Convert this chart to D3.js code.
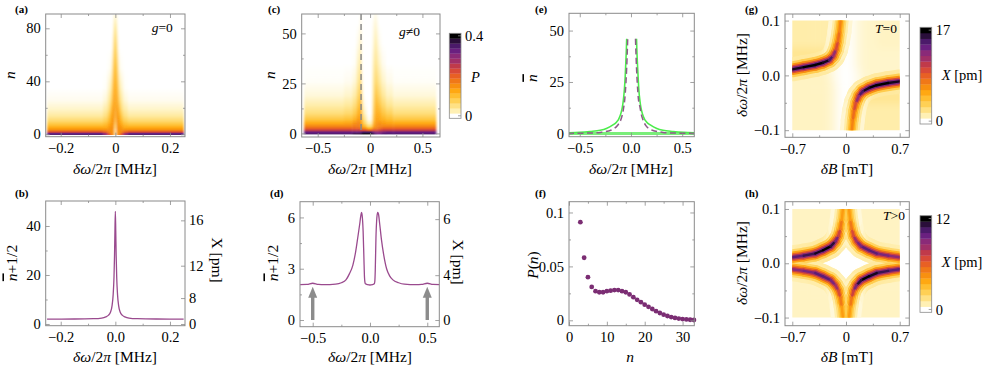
<!DOCTYPE html>
<html>
<head>
<meta charset="utf-8">
<script src="https://cdn.jsdelivr.net/npm/d3@7"></script>
<style>
body { margin: 0; background: #fff; }
</style>
</head>
<body>
<div id="chart"></div>
<script>
// ---------- values ----------

// colour bands of the bars, bottom (0) -> top
let palette = ["#ffffff", "#fff0b4", "#ffe184", "#ffd055", "#ffbe30", "#ffa812", "#f89010",
  "#f07818", "#e86024", "#d84a38", "#c03a4a", "#a03068", "#8a2a78", "#6a2080", "#4b1a6a", "#2a0e3a", "#000000"];

// (a) P(n) map, g=0 : column edges, n of the sampled levels, level per column (bottom -> top)
let aXEdges = [-0.25, -0.045, -0.03, -0.02, -0.013, -0.008, -0.004, -0.0015, 0.0015, 0.004, 0.008, 0.013, 0.02, 0.03, 0.045, 0.25];
let aStopN = [-0.5, 0.6, 1.5, 2.5, 3.5, 5, 7, 10, 14, 19, 26, 35, 50, 65, 80, 90];
let aCols = [
  [14, 13, 9.5, 7.5, 6, 5, 3.8, 2.5, 1.4, 0.7, 0.2, 0, 0, 0, 0, 0],
  [12, 11, 8.5, 7, 6, 5, 4.2, 3, 2, 1.2, 0.5, 0.1, 0, 0, 0, 0],
  [9, 8.5, 7, 6.5, 6, 5.5, 5, 4, 3, 2, 1.2, 0.6, 0.1, 0, 0, 0],
  [7, 6.5, 6, 6, 6, 6, 5.5, 5, 4.5, 3.5, 2.2, 1.2, 0.3, 0, 0, 0],
  [6, 6, 6, 6, 6, 6, 6, 6, 5.5, 5, 4, 3, 1.5, 0.4, 0, 0],
  [6, 6, 6, 6, 6, 6, 6, 6, 6, 6, 5.5, 5, 4, 2.5, 1, 0.3],
  [3, 3, 3, 3, 3, 3.5, 4, 5, 5.5, 5.5, 5.5, 5, 4, 3, 1.5, 0.5],
  [0.5, 0.5, 0.5, 0.5, 0.5, 1, 1.5, 2.5, 3.5, 4, 4, 4, 3.5, 2.5, 1.5, 0.5],
  [3, 3, 3, 3, 3, 3.5, 4, 5, 5.5, 5.5, 5.5, 5, 4, 3, 1.5, 0.5],
  [6, 6, 6, 6, 6, 6, 6, 6, 6, 6, 5.5, 5, 4, 2.5, 1, 0.3],
  [6, 6, 6, 6, 6, 6, 6, 6, 5.5, 5, 4, 3, 1.5, 0.4, 0, 0],
  [7, 6.5, 6, 6, 6, 6, 5.5, 5, 4.5, 3.5, 2.2, 1.2, 0.3, 0, 0, 0],
  [9, 8.5, 7, 6.5, 6, 5.5, 5, 4, 3, 2, 1.2, 0.6, 0.1, 0, 0, 0],
  [12, 11, 8.5, 7, 6, 5, 4.2, 3, 2, 1.2, 0.5, 0.1, 0, 0, 0, 0],
  [14, 13, 9.5, 7.5, 6, 5, 3.8, 2.5, 1.4, 0.7, 0.2, 0, 0, 0, 0, 0]
];

// (c) P(n) map, g!=0
let cXEdges = [-0.63, -0.25, -0.17, -0.13, -0.1, -0.08, -0.06, -0.03, 0.02, 0.04, 0.06, 0.08, 0.11, 0.15, 0.22, 0.63];
let cStopN = [-0.5, 0.6, 1.5, 2.5, 3.5, 5, 7, 10, 14, 19, 26, 35, 45, 55, 60];
let cCols = [
  [14, 13, 10, 8, 6.5, 5, 3.5, 2.2, 1.2, 0.5, 0.1, 0, 0, 0, 0],
  [14, 13, 10, 8, 6.5, 5.2, 3.8, 2.5, 1.5, 0.7, 0.2, 0, 0, 0, 0],
  [15, 13, 10, 8, 7, 6, 4.5, 3.2, 2.2, 1.2, 0.5, 0.1, 0, 0, 0],
  [15, 13, 10, 8, 7, 6.5, 5.5, 4.5, 3.5, 2.5, 1.5, 0.8, 0.3, 0, 0],
  [15, 13, 9.5, 7.5, 6.5, 6, 5.5, 5, 4.5, 3.5, 2.5, 1.5, 0.8, 0.3, 0.1],
  [16, 14, 9, 6.5, 5, 4, 3, 2, 1.2, 0.6, 0.2, 0, 0, 0, 0],
  [16, 14, 9, 6, 4, 2.5, 1.5, 0.7, 0.2, 0, 0, 0, 0, 0, 0],
  [16, 14, 8, 4.5, 2.5, 1, 0.3, 0, 0, 0, 0, 0, 0, 0, 0],
  [15, 13, 9, 6.5, 5, 4, 3, 2.5, 2, 1.5, 1.2, 0.8, 0.4, 0.2, 0],
  [14, 12, 9, 7, 6, 5.5, 5, 4.5, 4, 3.5, 2.5, 1.8, 1.2, 0.6, 0.3],
  [13, 12, 9, 7, 6.5, 6, 5.5, 5, 4.5, 3.5, 2.5, 1.5, 0.8, 0.3, 0.1],
  [13, 12, 9.5, 7.5, 6.5, 6, 5, 4.5, 3.5, 2.5, 1.5, 0.7, 0.2, 0, 0],
  [14, 12.5, 10, 8, 6.5, 5.5, 4.5, 3.5, 2.5, 1.5, 0.7, 0.2, 0, 0, 0],
  [14, 13, 10, 8, 6.5, 5.2, 4, 2.8, 1.7, 0.8, 0.3, 0, 0, 0, 0],
  [14, 13, 10, 8, 6.5, 5, 3.5, 2.2, 1.2, 0.5, 0.1, 0, 0, 0, 0]
];
let cDashX = -0.086;

// (e) mean occupation: green solid and purple dashed branches
let eGreenLX = [-0.615, -0.5, -0.4, -0.3, -0.24, -0.18, -0.14, -0.12, -0.1, -0.085, -0.075, -0.065, -0.057, -0.05, -0.045, -0.042];
let eGreenLY = [0.3, 0.5, 0.9, 1.5, 2.4, 4.0, 5.6, 7.0, 9.5, 12.5, 16, 21, 27, 35, 41, 46];
let eGreenRX = [0.054, 0.057, 0.062, 0.07, 0.077, 0.087, 0.097, 0.112, 0.132, 0.152, 0.192, 0.252, 0.312, 0.412, 0.512, 0.618];
let eGreenRY = [46, 41, 35, 27, 21, 16, 12.5, 9.5, 7, 5.6, 4, 2.4, 1.5, 0.9, 0.5, 0.3];
let ePurpleLX = [-0.615, -0.4, -0.3, -0.22, -0.17, -0.13, -0.1, -0.085, -0.07, -0.06, -0.05, -0.042, -0.036, -0.032];
let ePurpleLY = [0, 0.2, 0.5, 1.2, 2.2, 4, 6.5, 9, 13, 17, 24, 32, 40, 46];
let ePurpleRX = [0.044, 0.048, 0.054, 0.062, 0.072, 0.087, 0.102, 0.118, 0.142, 0.182, 0.232, 0.312, 0.412, 0.618];
let ePurpleRY = [46, 40, 32, 24, 17, 13, 9, 6.5, 4, 2.2, 1.2, 0.5, 0.2, 0];
let eFlatX = [-0.615, 0.618];
let eFlatY = [0, 0];

// (b) n+1/2 vs detuning, g=0
let bX = [-0.25, -0.15, -0.08, -0.05, -0.035, -0.025, -0.018, -0.012, -0.008, -0.005, -0.003, -0.0015, 0,
  0.0015, 0.003, 0.005, 0.008, 0.012, 0.018, 0.025, 0.035, 0.05, 0.08, 0.15, 0.25];
let bY = [2.0, 2.03, 2.15, 2.4, 2.9, 3.6, 4.8, 7.5, 12, 19, 28, 38, 46,
  38, 28, 19, 12, 7.5, 4.8, 3.6, 2.9, 2.4, 2.15, 2.03, 2.0];
let bPmPerSqrt = 2.46;   // right axis: X = k * sqrt(n+1/2)

// (d) n+1/2 vs detuning, g!=0
let dX = [-0.61, -0.55, -0.5, -0.45, -0.4, -0.3, -0.25, -0.21, -0.18, -0.15, -0.125, -0.105, -0.09, -0.08, -0.074,
  -0.068, -0.06, -0.053, -0.048, -0.044, -0.04, -0.02, 0, 0.02, 0.038, 0.042, 0.046, 0.052, 0.06, 0.067,
  0.074, 0.085, 0.1, 0.12, 0.145, 0.17, 0.2, 0.25, 0.3, 0.4, 0.45, 0.5, 0.55, 0.61];
let dY = [2.07, 2.08, 2.15, 2.08, 2.07, 2.1, 2.18, 2.35, 2.7, 3.2, 4.0, 4.9, 5.6, 6.1, 6.3,
  6.1, 5.2, 3.6, 2.5, 2.2, 2.12, 2.07, 2.05, 2.07, 2.12, 2.25, 2.9, 4.8, 6.0, 6.3,
  6.2, 5.6, 4.7, 3.8, 3.0, 2.6, 2.35, 2.18, 2.1, 2.07, 2.08, 2.15, 2.08, 2.07];
let dPmPerSqrt = 2.47;
let dArrowX = [-0.5, 0.5];
let dArrowTop = 1.95;

// (f) photon number distribution
let fN = [3, 4, 5, 6, 7, 8, 9, 10, 11, 12, 13, 14, 15, 16, 17, 18, 19, 20, 21, 22, 23, 24, 25, 26, 27, 28, 29, 30, 31, 32, 33];
let fP = [0.091, 0.058, 0.040, 0.031, 0.027, 0.026, 0.026, 0.027, 0.0275, 0.028, 0.028, 0.027, 0.026, 0.024, 0.0215,
  0.019, 0.0168, 0.0145, 0.0125, 0.0105, 0.0085, 0.0068, 0.0052, 0.004, 0.003, 0.0022, 0.0016, 0.0011, 0.0008, 0.0005, 0.0003];

// (g),(h) pale background level, rows bottom -> top
let ghXEdges = [-0.7, -0.4, -0.2, -0.1, 0, 0.1, 0.2, 0.4, 0.7];
let ghYEdges = [-0.1, -0.05, -0.025, -0.012, 0.012, 0.025, 0.05, 0.1];
let gRows = [
  [0.8, 0.8, 0.5, 0, 0, 1.2, 1.2, 1.2],
  [0.8, 0.8, 0.5, 0, 0, 0.8, 1.8, 1.8],
  [0.8, 0.8, 0.5, 0, 0, 0.3, 0.6, 0.8],
  [0.8, 0.8, 0.3, 0, 0, 0.3, 0.7, 0.7],
  [0.8, 0.6, 0.3, 0, 0, 0.5, 0.7, 0.7],
  [1.8, 1.8, 0.8, 0, 0, 0.5, 0.7, 0.7],
  [1.2, 1.2, 1.2, 0.3, 0, 0.5, 0.7, 0.8]
];
let hRows = [
  [0.8, 0.8, 0.8, 0.3, 0.3, 0.8, 0.8, 0.8],
  [0.8, 0.8, 0.3, 0, 0, 0.3, 0.8, 0.8],
  [0.8, 0.3, 0, 0, 0, 0, 0.3, 0.8],
  [0.3, 0, 0, 0, 0, 0, 0, 0.3],
  [0.8, 0.3, 0, 0, 0, 0, 0.3, 0.8],
  [0.8, 0.8, 0.3, 0, 0, 0.3, 0.8, 0.8],
  [0.8, 0.8, 0.8, 0.3, 0.3, 0.8, 0.8, 0.8]
];

// (g) T=0 resonance ridges (dB, dw, level)
let gLeftX = [-0.7, -0.55, -0.4, -0.3, -0.22, -0.17, -0.13, -0.105, -0.085, -0.07];
let gLeftY = [0.011, 0.015, 0.019, 0.023, 0.028, 0.035, 0.047, 0.062, 0.08, 0.1];
let gLeftLv = [15, 16, 16, 16, 15, 13, 10, 8, 7, 6];
let gRightX = [0.7, 0.55, 0.4, 0.3, 0.22, 0.17, 0.13, 0.105, 0.088, 0.076];
let gRightY = [-0.011, -0.014, -0.018, -0.023, -0.029, -0.037, -0.05, -0.065, -0.082, -0.1];
let gRightLv = [15, 16, 16, 16, 15, 13, 10, 8, 7, 6];

// (h) T>0 ridges
let hUpLeftX = [-0.7, -0.55, -0.4, -0.3, -0.2, -0.14, -0.1, -0.075, -0.055, -0.04];
let hUpLeftY = [0.011, 0.014, 0.018, 0.024, 0.031, 0.04, 0.05, 0.063, 0.08, 0.1];
let hUpLeftLv = [13, 14, 15, 16, 16, 14, 11, 8, 6, 5];
let hUpRightX = [0.7, 0.55, 0.4, 0.3, 0.2, 0.14, 0.1, 0.075, 0.055, 0.04];
let hUpRightY = [0.011, 0.014, 0.018, 0.024, 0.031, 0.04, 0.05, 0.063, 0.08, 0.1];
let hUpRightLv = [12, 12, 13, 14, 13, 12, 10, 8, 6, 5];
let hLowLeftX = [-0.7, -0.55, -0.4, -0.3, -0.2, -0.14, -0.1, -0.075, -0.055, -0.04];
let hLowLeftY = [-0.011, -0.014, -0.018, -0.024, -0.031, -0.04, -0.05, -0.063, -0.08, -0.1];
let hLowLeftLv = [12, 12, 13, 14, 13, 12, 10, 8, 6, 5];
let hLowRightX = [0.7, 0.55, 0.4, 0.3, 0.2, 0.14, 0.1, 0.075, 0.055, 0.04];
let hLowRightY = [-0.011, -0.014, -0.018, -0.024, -0.031, -0.04, -0.05, -0.063, -0.08, -0.1];
let hLowRightLv = [13, 14, 15, 16, 16, 14, 11, 8, 6, 5];

// ---------- drawing ----------
const FONT = '"Liberation Serif", "Times New Roman", serif';
const TICK = 14.5, TITLE = 15.5;
const frameCol = "#8a8a8a";
const svg = d3.select("#chart").append("svg").attr("width", 983).attr("height", 370)
  .style("font-family", FONT);
const defs = svg.append("defs");

// fractional level -> colour, blending neighbouring bands
function lvColor(lv) {
  lv = Math.max(0, Math.min(16, lv));
  const f = Math.floor(lv);
  if (f >= 16) return palette[16];
  return d3.interpolateRgb(palette[f], palette[f + 1])(lv - f);
}

function panel(l, r, t, b, xd, yd) {
  return { l, r, t, b,
    x: d3.scaleLinear().domain(xd).range([l, r]),
    y: d3.scaleLinear().domain(yd).range([b, t]) };
}
const A = panel(45.7, 185, 14, 136.7, [-0.255, 0.255], [-1.8, 90.8]);
const C = panel(301.7, 440, 14, 137, [-0.653, 0.668], [-1.8, 59.7]);
const E = panel(569, 694.3, 13.3, 136.7, [-0.605, 0.618], [-1.6, 58.4]);
const G = panel(785, 909.3, 14, 137.3, [-0.795, 0.825], [-0.113, 0.112]);
const B = panel(45.7, 185, 201, 325.7, [-0.255, 0.255], [-0.7, 50.2]);
const D = panel(300, 439.3, 201.7, 326.7, [-0.611, 0.605], [-0.39, 6.92]);
const F = panel(569, 694.3, 201.7, 325.7, [0, 33.1], [-0.005, 0.11]);
const H = panel(785, 909.3, 201.7, 325.7, [-0.795, 0.825], [-0.115, 0.1134]);

function clip(id, x0, y0, x1, y1) {
  defs.append("clipPath").attr("id", id).append("rect")
    .attr("x", Math.min(x0, x1)).attr("y", Math.min(y0, y1))
    .attr("width", Math.abs(x1 - x0)).attr("height", Math.abs(y1 - y0));
  return "url(#" + id + ")";
}
function frameClip(id, P) { return clip(id, P.l, P.t, P.r, P.b); }

function blurFilter(id, sx, sy) {
  defs.append("filter").attr("id", id)
    .attr("x", "-20%").attr("y", "-20%").attr("width", "140%").attr("height", "140%")
    .append("feGaussianBlur").attr("stdDeviation", sx + " " + sy);
  return "url(#" + id + ")";
}

// column heat map: every column is a vertical gradient through its sampled levels
function columnHeat(P, key, xE, stopN, cols, clipUrl) {
  const y1 = P.y(stopN[0]), y2 = P.y(stopN[stopN.length - 1]);
  cols.forEach((col, i) => {
    const gr = defs.append("linearGradient").attr("id", key + i)
      .attr("gradientUnits", "userSpaceOnUse")
      .attr("x1", 0).attr("x2", 0).attr("y1", y1).attr("y2", y2);
    stopN.forEach((n, j) => {
      gr.append("stop").attr("offset", (P.y(n) - y1) / (y2 - y1)).attr("stop-color", lvColor(col[j]));
    });
  });
  const outer = svg.append("g").attr("clip-path", clipUrl);
  outer.append("g").attr("filter", blurFilter(key + "blur", 0.8, 0.01))
    .selectAll("rect").data(cols).join("rect")
    .attr("x", (d, i) => P.x(xE[i]))
    .attr("width", (d, i) => P.x(xE[i + 1]) - P.x(xE[i]) + 0.3)
    .attr("y", y2).attr("height", y1 - y2)
    .attr("fill", (d, i) => `url(#${key}${i})`);
}

// pale background of (g),(h): coarse cells smoothed by a blur
function softHeat(P, key, xE, yE, rows, clipUrl) {
  let cells = [];
  for (let j = 0; j < yE.length - 1; j++)
    for (let i = 0; i < xE.length - 1; i++) {
      const pad = 14;
      let x0 = P.x(xE[i]), x1 = P.x(xE[i + 1]), yt = P.y(yE[j + 1]), yb = P.y(yE[j]);
      if (i === 0) x0 -= pad;
      if (i === xE.length - 2) x1 += pad;
      if (j === 0) yb += pad;
      if (j === yE.length - 2) yt -= pad;
      cells.push({ x0, x1, yt, yb, lv: rows[j][i] });
    }
  svg.append("g").attr("clip-path", clipUrl)
    .append("g").attr("filter", blurFilter(key, 5, 5))
    .selectAll("rect").data(cells).join("rect")
    .attr("x", d => d.x0).attr("y", d => d.yt)
    .attr("width", d => d.x1 - d.x0 + 0.3).attr("height", d => d.yb - d.yt + 0.3)
    .attr("fill", d => lvColor(d.lv));
}

// resonance ridges drawn as layered strokes (wide pale halo -> thin dark core)
function ridges(P, branches, clipUrl) {
  const layers = [{ w: 24, f: 0.09 }, { w: 16, f: 0.2 }, { w: 11.5, f: 0.38 }, { w: 8, f: 0.58 },
    { w: 5, f: 0.8 }, { w: 2.4, f: 1 }];
  const g = svg.append("g").attr("clip-path", clipUrl);
  let segs = [];
  branches.forEach(b => {
    for (let i = 0; i < b.x.length - 1; i++)
      segs.push({ x1: b.x[i], y1: b.y[i], x2: b.x[i + 1], y2: b.y[i + 1], lv: (b.lv[i] + b.lv[i + 1]) / 2 });
  });
  layers.forEach(L => {
    g.append("g").selectAll("line").data(segs).join("line")
      .attr("x1", d => P.x(d.x1)).attr("y1", d => P.y(d.y1))
      .attr("x2", d => P.x(d.x2)).attr("y2", d => P.y(d.y2))
      .attr("stroke", d => lvColor(d.lv * L.f))
      .attr("stroke-width", L.w)
      .attr("stroke-linecap", "round");
  });
}

function axes(P, o) {
  const g = svg.append("g");
  const fmt = o.xFmt || d3.format("");
  const yfmt = o.yFmt || d3.format("");
  g.append("g").attr("transform", `translate(0,${P.b})`)
    .call(d3.axisBottom(P.x).tickValues(o.xMaj).tickSizeInner(-4).tickSizeOuter(0).tickPadding(6).tickFormat(fmt));
  g.append("g").attr("transform", `translate(0,${P.b})`)
    .call(d3.axisBottom(P.x).tickValues(o.xMin).tickSizeInner(-2).tickSizeOuter(0).tickFormat(""));
  g.append("g").attr("transform", `translate(0,${P.t})`)
    .call(d3.axisTop(P.x).tickValues(o.xMaj).tickSizeInner(-4).tickSizeOuter(0).tickFormat(""));
  g.append("g").attr("transform", `translate(0,${P.t})`)
    .call(d3.axisTop(P.x).tickValues(o.xMin).tickSizeInner(-2).tickSizeOuter(0).tickFormat(""));
  g.append("g").attr("transform", `translate(${P.l},0)`)
    .call(d3.axisLeft(P.y).tickValues(o.yMaj).tickSizeInner(-4).tickSizeOuter(0).tickPadding(5).tickFormat(yfmt));
  g.append("g").attr("transform", `translate(${P.l},0)`)
    .call(d3.axisLeft(P.y).tickValues(o.yMin).tickSizeInner(-2).tickSizeOuter(0).tickFormat(""));
  if (o.right) {
    g.append("g").attr("transform", `translate(${P.r},0)`)
      .call(d3.axisRight(o.right.scale).tickValues(o.right.ticks).tickSizeInner(-4).tickSizeOuter(0).tickPadding(4).tickFormat(d3.format("")));
  } else {
    g.append("g").attr("transform", `translate(${P.r},0)`)
      .call(d3.axisRight(P.y).tickValues(o.yMaj).tickSizeInner(-4).tickSizeOuter(0).tickFormat(""));
    g.append("g").attr("transform", `translate(${P.r},0)`)
      .call(d3.axisRight(P.y).tickValues(o.yMin).tickSizeInner(-2).tickSizeOuter(0).tickFormat(""));
  }
  g.selectAll(".domain").remove();
  g.selectAll(".tick line").attr("stroke", frameCol).attr("stroke-width", 0.8);
  g.selectAll("g").attr("font-family", null).attr("font-size", null);
  g.selectAll("text").style("font-family", FONT).style("font-size", TICK + "px").attr("fill", "#000");
  g.append("rect").attr("x", P.l).attr("y", P.t).attr("width", P.r - P.l).attr("height", P.b - P.t)
    .attr("fill", "none").attr("stroke", frameCol).attr("stroke-width", 1);
}

function rich(x, y, parts, opt) {
  opt = opt || {};
  const t = svg.append("text")
    .style("font-family", FONT)
    .style("font-size", (opt.size || TITLE) + "px")
    .attr("fill", "#000")
    .attr("text-anchor", opt.anchor || "middle");
  if (opt.rot) {
    t.attr("transform", `translate(${x},${y}) rotate(${opt.rot})`).attr("dy", "0.35em");
  } else {
    t.attr("x", x).attr("y", y);
  }
  parts.forEach(p => {
    const s = t.append("tspan").text(p[0]);
    if (p[1]) s.style("font-style", "italic");
    if (p[2]) s.style("text-decoration", p[2]);
  });
  return t;
}

function colorbar(x0, yTop, yBot, w, maxLabel, nameParts, nameY) {
  const bh = (yBot - yTop) / palette.length;
  const g = svg.append("g");
  g.selectAll("rect").data(palette).join("rect")
    .attr("x", x0).attr("width", w)
    .attr("y", (d, i) => yBot - (i + 1) * bh).attr("height", bh + 0.3)
    .attr("fill", d => d);
  g.append("rect").attr("x", x0).attr("y", yTop).attr("width", w).attr("height", yBot - yTop)
    .attr("fill", "none").attr("stroke", frameCol).attr("stroke-width", 0.8);
  [[yTop + bh / 2, maxLabel], [yBot - bh / 2, "0"]].forEach(t => {
    g.append("line").attr("x1", x0 + w - 3).attr("x2", x0 + w).attr("y1", t[0]).attr("y2", t[0])
      .attr("stroke", frameCol).attr("stroke-width", 0.8);
    g.append("text").attr("x", x0 + w + 4).attr("y", t[0]).attr("dy", "0.35em")
      .style("font-family", FONT).style("font-size", TICK + "px").text(t[1]);
  });
  rich(x0 + w + 10, nameY, nameParts, { anchor: "start", size: TICK });
}

const dwLabel = [["δω", 1], ["/2", 0], ["π", 1], [" [MHz]", 0]];
const dBLabel = [["δB", 1], [" [mT]", 0]];
const zeroOr1f = d => d === 0 ? "0" : d3.format(".1f")(d);

// ----- (a) -----
columnHeat(A, "gradA", aXEdges, aStopN, aCols, frameClip("clipA", A));
axes(A, { xMaj: [-0.2, 0, 0.2], xMin: [-0.1, 0.1], yMaj: [0, 40, 80], yMin: [20, 60] });
rich(151.7, 32, [["g", 1], ["=0", 0]], { anchor: "start", size: 13.5 });

// ----- (c) -----
columnHeat(C, "gradC", cXEdges, cStopN, cCols, frameClip("clipC", C));
svg.append("line").attr("x1", C.x(cDashX)).attr("x2", C.x(cDashX))
  .attr("y1", C.t).attr("y2", C.y(0))
  .attr("stroke", "#888").attr("stroke-width", 1.5).attr("stroke-dasharray", "6,4");
axes(C, { xMaj: [-0.5, 0, 0.5], xMin: [-0.25, 0.25], yMaj: [0, 25, 50], yMin: [12.5, 37.5], xFmt: zeroOr1f });
rich(399, 36, [["g", 1], ["≠0", 0]], { anchor: "start", size: 13.5 });
colorbar(449.3, 33.3, 118.3, 11.7, "0.4", [["P", 1]], 82);

// ----- (e) -----
const eLine = d3.line().x(d => E.x(d[0])).y(d => E.y(d[1])).curve(d3.curveMonotoneX);
const eg = svg.append("g").attr("clip-path", frameClip("clipE", E));
eg.append("path").attr("d", eLine(d3.zip(eFlatX, eFlatY)))
  .attr("fill", "none").attr("stroke", "#7aee7a").attr("stroke-width", 3);
[[eGreenLX, eGreenLY], [eGreenRX, eGreenRY]].forEach(s => {
  eg.append("path").attr("d", eLine(d3.zip(s[0], s[1])))
    .attr("fill", "none").attr("stroke", "#4cec4c").attr("stroke-width", 1.6);
});
[[ePurpleLX, ePurpleLY], [ePurpleRX, ePurpleRY]].forEach(s => {
  eg.append("path").attr("d", eLine(d3.zip(s[0], s[1])))
    .attr("fill", "none").attr("stroke", "#8d5b88").attr("stroke-width", 1.5)
    .attr("stroke-dasharray", "6,3.5");
});
axes(E, { xMaj: [-0.5, 0, 0.5], xMin: [-0.25, 0.25], yMaj: [0, 25, 50], yMin: [12.5, 37.5], xFmt: d3.format(".1f") });

// ----- (g) -----
const clipG = clip("clipG", G.x(-0.7), G.y(0.1), G.x(0.7), G.y(-0.1));
softHeat(G, "blurG", ghXEdges, ghYEdges, gRows, clipG);
ridges(G, [{ x: gLeftX, y: gLeftY, lv: gLeftLv }, { x: gRightX, y: gRightY, lv: gRightLv }], clipG);
axes(G, { xMaj: [-0.7, 0, 0.7], xMin: [-0.35, 0.35], yMaj: [-0.1, 0, 0.1], yMin: [-0.05, 0.05],
  xFmt: zeroOr1f, yFmt: d3.format(".1f") });
rich(875, 33, [["T", 1], ["=0", 0]], { anchor: "start", size: 13.5 });
colorbar(920, 27.3, 124, 11.7, "17", [["X", 1], [" [pm]", 0]], 80);

// ----- (b) -----
const bLine = d3.line().x(d => B.x(d[0])).y(d => B.y(d[1])).curve(d3.curveMonotoneX);
svg.append("g").attr("clip-path", frameClip("clipB", B))
  .append("path").attr("d", bLine(d3.zip(bX, bY)))
  .attr("fill", "none").attr("stroke", "#9a4a8e").attr("stroke-width", 1.3);
const bRight = d3.scalePow().exponent(2).domain([0, 18]).range([B.y(0), B.y((18 / bPmPerSqrt) ** 2)]);
axes(B, { xMaj: [-0.2, 0, 0.2], xMin: [-0.1, 0.1], yMaj: [0, 20, 40], yMin: [10, 30],
  xFmt: d3.format(".1f"), right: { scale: bRight, ticks: [0, 8, 12, 16] } });

// ----- (d) -----
const dLine = d3.line().x(d => D.x(d[0])).y(d => D.y(d[1])).curve(d3.curveMonotoneX);
const dg = svg.append("g").attr("clip-path", frameClip("clipD", D));
dg.append("path").attr("d", dLine(d3.zip(dX, dY)))
  .attr("fill", "none").attr("stroke", "#9a4a8e").attr("stroke-width", 1.3);
dArrowX.forEach(ax => {
  const x = D.x(ax), yb = D.y(0), yt = D.y(dArrowTop);
  dg.append("line").attr("x1", x).attr("x2", x).attr("y1", yb).attr("y2", yt + 10)
    .attr("stroke", "#8c8c8c").attr("stroke-width", 3.4);
  dg.append("path").attr("d", `M${x - 4.5},${yt + 11}L${x},${yt}L${x + 4.5},${yt + 11}Z`).attr("fill", "#8c8c8c");
});
const dRight = d3.scalePow().exponent(2).domain([0, 7]).range([D.y(0), D.y((7 / dPmPerSqrt) ** 2)]);
axes(D, { xMaj: [-0.5, 0, 0.5], xMin: [-0.25, 0.25], yMaj: [0, 3, 6], yMin: [1.5, 4.5],
  xFmt: d3.format(".1f"), right: { scale: dRight, ticks: [0, 4, 6] } });

// ----- (f) -----
svg.append("g").selectAll("circle").data(d3.zip(fN, fP)).join("circle")
  .attr("cx", d => F.x(d[0])).attr("cy", d => F.y(d[1])).attr("r", 2.4)
  .attr("fill", "#7b2d73");
axes(F, { xMaj: [0, 10, 20, 30], xMin: [5, 15, 25], yMaj: [0, 0.05, 0.1], yMin: [0.025, 0.075] });

// ----- (h) -----
const clipH = clip("clipH", H.x(-0.7), H.y(0.1), H.x(0.7), H.y(-0.1));
softHeat(H, "blurH", ghXEdges, ghYEdges, hRows, clipH);
ridges(H, [
  { x: hUpLeftX, y: hUpLeftY, lv: hUpLeftLv }, { x: hUpRightX, y: hUpRightY, lv: hUpRightLv },
  { x: hLowLeftX, y: hLowLeftY, lv: hLowLeftLv }, { x: hLowRightX, y: hLowRightY, lv: hLowRightLv }
], clipH);
axes(H, { xMaj: [-0.7, 0, 0.7], xMin: [-0.35, 0.35], yMaj: [-0.1, 0, 0.1], yMin: [-0.05, 0.05],
  xFmt: zeroOr1f, yFmt: d3.format(".1f") });
rich(883, 220, [["T", 1], [">0", 0]], { anchor: "start", size: 13.5 });
colorbar(920, 215.7, 312.3, 11.7, "12", [["X", 1], [" [pm]", 0]], 267);

// ----- axis titles -----
[[115, 174], [370, 174], [631, 174], [115, 361.5], [370, 361.5]].forEach(p => rich(p[0], p[1], dwLabel));
rich(847, 174, dBLabel);
rich(847, 361.5, dBLabel);
rich(630, 361.5, [["n", 1]]);
rich(10, 75, [["n", 1]], { rot: -90 });
rich(270, 75, [["n", 1]], { rot: -90 });
rich(532, 78, [["n", 1, "overline"]], { rot: -90 });
rich(742, 75, dwLabel, { rot: -90 });
rich(12, 263, [["n", 1, "overline"], ["+1/2", 0]], { rot: -90 });
rich(273, 263, [["n", 1, "overline"], ["+1/2", 0]], { rot: -90 });
rich(217, 260, [["X", 0], [" [pm]", 0]], { rot: 90 });
rich(458, 262, [["X", 0], [" [pm]", 0]], { rot: 90 });
rich(533, 265, [["P", 1], ["(", 0], ["n", 1], [")", 0]], { rot: -90 });
rich(742, 263, dwLabel, { rot: -90 });

// ----- panel letters -----
[["(a)", 15, 12.5], ["(c)", 268, 12.5], ["(e)", 535, 12.5], ["(g)", 745, 12.5],
 ["(b)", 15, 197], ["(d)", 270, 197], ["(f)", 535, 197], ["(h)", 745, 197]].forEach(p => {
  svg.append("text").attr("x", p[1]).attr("y", p[2])
    .style("font-family", FONT).style("font-size", "11px").style("font-weight", "bold").text(p[0]);
});
</script>
</body>
</html>
